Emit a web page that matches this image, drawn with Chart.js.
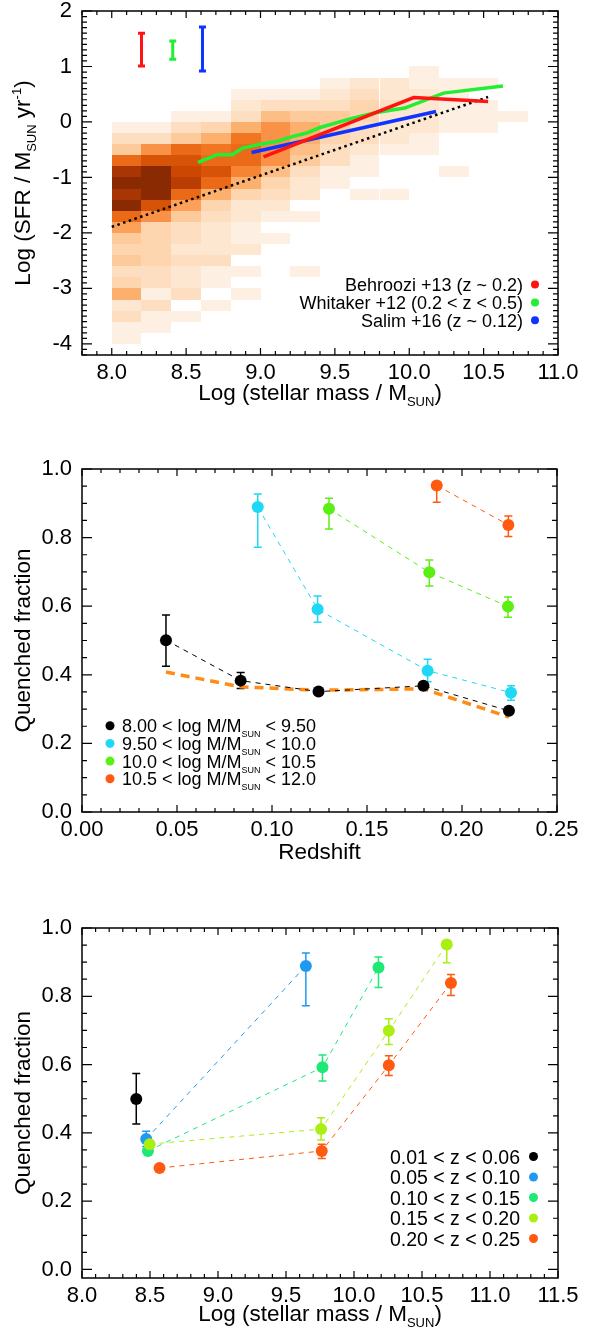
<!DOCTYPE html>
<html>
<head>
<meta charset="utf-8">
<script src="https://cdn.jsdelivr.net/npm/chart.js@4.4.1/dist/chart.umd.min.js"></script>
<style>
html, body { margin: 0; padding: 0; background: #fff; }
body { width: 590px; height: 1329px; position: relative; overflow: hidden; }
canvas { position: absolute; left: 0; }
</style>
</head>
<body>
<canvas id="sfrChart" width="590" height="410" style="top:0"></canvas>
<canvas id="zChart" width="590" height="410" style="top:455px"></canvas>
<canvas id="massChart" width="590" height="414" style="top:915px"></canvas>
<script>
// ---------- panel 1 : SFR vs stellar mass ----------
const binWidth = 0.2;
const massEdges = [8.0, 8.2, 8.4, 8.6, 8.8, 9.0, 9.2, 9.4, 9.6, 9.8, 10.0, 10.2, 10.4, 10.6];
const sfrEdges = [1.0, 0.8, 0.6, 0.4, 0.2, 0.0, -0.2, -0.4, -0.6, -0.8, -1.0, -1.2, -1.4,
                  -1.6, -1.8, -2.0, -2.2, -2.4, -2.6, -2.8, -3.0, -3.2, -3.4, -3.6, -3.8];
// relative density per cell (0 = empty), rows follow sfrEdges, columns follow massEdges
const density = [
  [0, 0, 0, 0, 0, 0, 0, 0, 0, 0, 1, 0, 0, 0],
  [0, 0, 0, 0, 0, 0, 0, 1, 1.5, 1.5, 1, 1, 1, 0],
  [0, 0, 0, 0, 1, 1, 1, 1.5, 2, 1.5, 1.5, 1, 0, 0],
  [0, 0, 0, 0, 1.5, 2, 2, 2, 2.5, 2, 1.5, 1, 1, 0],
  [0, 0, 1, 1, 2, 3.5, 3, 3, 2.5, 1.5, 1.5, 1, 1, 1],
  [1, 1, 2, 2.5, 4, 5, 4, 3, 2, 1.5, 1.5, 1, 1, 0],
  [2, 2, 3, 4, 6, 5, 4, 2.5, 2, 1.5, 1, 0, 0, 0],
  [3, 5, 6.5, 6, 6.5, 5, 3.5, 2, 1.5, 1, 1, 0, 0, 0],
  [6.5, 7.5, 7.5, 6.5, 6.5, 5, 3, 2, 1, 0, 0, 0, 0, 0],
  [9, 10, 8, 7.5, 5.5, 3.5, 2, 1, 1, 0, 0, 1, 0, 0],
  [10, 10, 8.5, 6.5, 4, 2.5, 1.5, 1, 0, 0, 0, 0, 0, 0],
  [9, 10, 6.5, 4, 2.5, 2, 1.5, 0, 1, 1, 0, 0, 0, 0],
  [10, 7.5, 4.5, 2.5, 1.5, 1.5, 0, 0, 0, 0, 0, 0, 0, 0],
  [6.5, 5, 3, 2, 1.5, 1, 1, 0, 0, 0, 0, 0, 0, 0],
  [4.5, 2.5, 2, 1.5, 1, 0, 0, 0, 0, 0, 0, 0, 0, 0],
  [3, 2.5, 2, 1.5, 1, 1, 0, 0, 0, 0, 0, 0, 0, 0],
  [2.5, 2.5, 1.5, 1.5, 1.5, 0, 0, 0, 0, 0, 0, 0, 0, 0],
  [3, 2.5, 2, 2, 0, 0, 0, 0, 0, 0, 0, 0, 0, 0],
  [2, 2, 1.5, 1, 1, 0, 1, 0, 0, 0, 0, 0, 0, 0],
  [2.5, 2, 1.5, 1, 0, 0, 0, 0, 0, 0, 0, 0, 0, 0],
  [4, 1, 2, 0, 1, 0, 0, 0, 0, 0, 0, 0, 0, 0],
  [1.5, 2, 0, 1, 0, 0, 0, 0, 0, 0, 0, 0, 0, 0],
  [2, 1, 1, 0, 0, 0, 0, 0, 0, 0, 0, 0, 0, 0],
  [1, 1, 0, 0, 0, 0, 0, 0, 0, 0, 0, 0, 0, 0],
  [1, 0, 0, 0, 0, 0, 0, 0, 0, 0, 0, 0, 0, 0]
];
const behrooziMass = [9.02, 10.03, 10.53];
const behrooziSfr = [-0.63, 0.44, 0.37];
const whitakerMass = [8.58, 8.71, 8.81, 8.88, 9.0, 9.11, 9.22, 9.31, 9.40, 9.62, 9.78, 9.97, 10.23, 10.63];
const whitakerSfr = [-0.73, -0.59, -0.59, -0.47, -0.40, -0.35, -0.26, -0.20, -0.10, 0.07, 0.17, 0.25, 0.52, 0.65];
const salimMass = [8.94, 10.18];
const salimSfr = [-0.55, 0.19];
const fitMass = [8.0, 10.53];
const fitSfr = [-1.89, 0.45];
const scatterMass = [8.2, 8.41, 8.61];
const scatterLo = [1.01, 1.13, 0.92];
const scatterHi = [1.60, 1.46, 1.71];
const relationLabels = ['Behroozi +13 (z ~ 0.2)', 'Whitaker +12 (0.2 < z < 0.5)', 'Salim +16 (z ~ 0.12)'];
const massTicks = [8.0, 8.5, 9.0, 9.5, 10.0, 10.5, 11.0];
const sfrTicks = [-4, -3, -2, -1, 0, 1, 2];

// ---------- panel 2 : quenched fraction vs redshift ----------
const massBinLabels = [['8.00 < log M/M', 'SUN', ' < 9.50'], ['9.50 < log M/M', 'SUN', ' < 10.0'],
                       ['10.0 < log M/M', 'SUN', ' < 10.5'], ['10.5 < log M/M', 'SUN', ' < 12.0']];
const zBin1 = [0.0442, 0.0835, 0.1245, 0.1797, 0.2247];
const qBin1 = [0.501, 0.383, 0.351, 0.368, 0.295];
const qBin1Lo = [0.425, 0.360, 0.344, 0.361, 0.288];
const qBin1Hi = [0.574, 0.407, 0.358, 0.375, 0.302];
const zBin2 = [0.0925, 0.1240, 0.1819, 0.2258];
const qBin2 = [0.889, 0.591, 0.412, 0.348];
const qBin2Lo = [0.772, 0.553, 0.380, 0.326];
const qBin2Hi = [0.927, 0.630, 0.445, 0.368];
const zBin3 = [0.1300, 0.1828, 0.2242];
const qBin3 = [0.884, 0.699, 0.599];
const qBin3Lo = [0.825, 0.659, 0.568];
const qBin3Hi = [0.915, 0.735, 0.627];
const zBin4 = [0.1867, 0.2244];
const qBin4 = [0.952, 0.837];
const qBin4Lo = [0.903, 0.803];
const qBin4Hi = [0.960, 0.863];
const zAll = [0.0442, 0.0835, 0.1245, 0.1797, 0.2247];
const qAll = [0.408, 0.365, 0.355, 0.359, 0.277];
const zTicks = [0.00, 0.05, 0.10, 0.15, 0.20, 0.25];
const fracTicks = [0.0, 0.2, 0.4, 0.6, 0.8, 1.0];

// ---------- panel 3 : quenched fraction vs stellar mass ----------
const zBinLabels = ['0.01 < z < 0.06', '0.05 < z < 0.10', '0.10 < z < 0.15', '0.15 < z < 0.20', '0.20 < z < 0.25'];
const mZ1 = [8.399];
const qZ1 = [0.499];
const qZ1Lo = [0.426];
const qZ1Hi = [0.574];
const mZ2 = [8.472, 9.646];
const qZ2 = [0.382, 0.889];
const qZ2Lo = [0.360, 0.772];
const qZ2Hi = [0.405, 0.927];
const mZ3 = [8.485, 9.768, 10.18];
const qZ3 = [0.347, 0.592, 0.884];
const qZ3Lo = [0.340, 0.552, 0.826];
const qZ3Hi = [0.355, 0.628, 0.915];
const mZ4 = [8.497, 9.758, 10.256, 10.682];
const qZ4 = [0.367, 0.411, 0.699, 0.952];
const qZ4Lo = [0.360, 0.379, 0.659, 0.898];
const qZ4Hi = [0.375, 0.444, 0.734, 0.960];
const mZ5 = [8.57, 9.763, 10.256, 10.713];
const qZ5 = [0.297, 0.347, 0.598, 0.839];
const qZ5Lo = [0.290, 0.325, 0.568, 0.802];
const qZ5Hi = [0.304, 0.367, 0.626, 0.864];
const mass2Ticks = [8.0, 8.5, 9.0, 9.5, 10.0, 10.5, 11.0, 11.5];

// ---------- helpers ----------
const FONT = "'Liberation Sans', Arial, Helvetica, sans-serif";
Chart.defaults.font.family = FONT;
Chart.defaults.font.size = 22;
Chart.defaults.color = '#000';
Chart.defaults.animation = false;

const zip = (xs, ys) => xs.map((v, i) => ({ x: v, y: ys[i] }));

const cmap = [[253, 240, 226], [253, 222, 192], [253, 203, 155], [252, 176, 110], [249, 145, 70],
              [241, 118, 34], [226, 94, 12], [203, 71, 3], [168, 53, 4], [138, 42, 3]];
function densityColor(v) {
  const t = Math.min(Math.max(v, 1), 10) - 1;
  const i = Math.min(Math.floor(t), 8), f = t - i;
  const a = cmap[i], b = cmap[i + 1];
  return 'rgb(' + a.map((c, k) => Math.round(c + (b[k] - c) * f)).join(',') + ')';
}

function drawRich(ctx, parts, x, y, align, size, sub) {
  const font = s => s + 'px ' + FONT;
  let w = 0;
  parts.forEach(([t, k]) => { ctx.font = font(k === 'n' ? size : sub); w += ctx.measureText(t).width; });
  let cx = align === 'center' ? x - w / 2 : align === 'right' ? x - w : x;
  const base = y + size * 0.36;
  ctx.textAlign = 'left';
  ctx.textBaseline = 'alphabetic';
  ctx.fillStyle = '#000';
  parts.forEach(([t, k]) => {
    ctx.font = font(k === 'n' ? size : sub);
    const dy = k === 'sub' ? size * 0.28 : k === 'sup' ? -size * 0.42 : 0;
    ctx.fillText(t, cx, base + dy);
    cx += ctx.measureText(t).width;
  });
}

function axis(min, max, ticks, fmt, isX, size) {
  return {
    type: 'linear', min: min, max: max,
    grid: { display: false, drawTicks: false }, border: { display: false },
    afterBuildTicks: s => { s.ticks = ticks.map(v => ({ value: v })); },
    ticks: { callback: v => fmt(v), padding: isX ? 5 : 10, autoSkip: false, maxRotation: 0 },
    afterFit: s => {
      if (isX) { s.height = size; s.paddingLeft = 0; s.paddingRight = 0; }
      else { s.width = size; s.paddingTop = 0; s.paddingBottom = 0; }
    }
  };
}

// IDL style frame with inward ticks on all four sides
const idlAxes = {
  id: 'idlAxes',
  afterDraw(chart, args, o) {
    const { ctx, chartArea: a, scales: { x, y } } = chart;
    const steps = (min, max, st) => { const out = []; for (let i = Math.ceil(min / st - 1e-6); i * st <= max + 1e-9; i++) out.push(i * st); return out; };
    const isMajor = (v, m) => Math.abs(v / m - Math.round(v / m)) < 1e-6;
    ctx.save();
    ctx.strokeStyle = '#000';
    ctx.lineWidth = 1.5;
    ctx.strokeRect(a.left, a.top, a.right - a.left, a.bottom - a.top);
    ctx.lineWidth = 1.2;
    ctx.beginPath();
    steps(x.min, x.max, o.xMinor).forEach(v => {
      const px = x.getPixelForValue(v), L = isMajor(v, o.xMajor) ? 7 : 4;
      ctx.moveTo(px, a.bottom); ctx.lineTo(px, a.bottom - L);
      ctx.moveTo(px, a.top); ctx.lineTo(px, a.top + L);
    });
    steps(y.min, y.max, o.yMinor).forEach(v => {
      const py = y.getPixelForValue(v), L = isMajor(v, o.yMajor) ? 10 : 5;
      ctx.moveTo(a.left, py); ctx.lineTo(a.left + L, py);
      ctx.moveTo(a.right, py); ctx.lineTo(a.right - L, py);
    });
    ctx.stroke();
    ctx.restore();
  }
};

const heatmap = {
  id: 'heatmap',
  beforeDatasetsDraw(chart) {
    const { ctx, scales: { x, y } } = chart;
    ctx.save();
    density.forEach((row, r) => row.forEach((v, c) => {
      if (!v) return;
      const x0 = Math.round(x.getPixelForValue(massEdges[c]));
      const x1 = Math.round(x.getPixelForValue(massEdges[c] + binWidth));
      const y0 = Math.round(y.getPixelForValue(sfrEdges[r]));
      const y1 = Math.round(y.getPixelForValue(sfrEdges[r] - binWidth));
      ctx.fillStyle = densityColor(v);
      ctx.fillRect(x0, y0, x1 - x0, y1 - y0);
    }));
    ctx.restore();
  }
};

const errorBars = {
  id: 'errorBars',
  beforeDatasetsDraw(chart) {
    const { ctx, scales: { x, y } } = chart;
    ctx.save();
    chart.data.datasets.forEach(ds => {
      if (!ds.errLo) return;
      ds.data.forEach((p, i) => {
        const px = x.getPixelForValue(p.x);
        const lo = y.getPixelForValue(ds.errLo[i]), hi = y.getPixelForValue(ds.errHi[i]);
        const cap = ds.errCap || 4;
        ctx.strokeStyle = Array.isArray(ds.errColor) ? ds.errColor[i] : ds.errColor;
        ctx.lineWidth = ds.errWidth || 1.5;
        ctx.beginPath();
        ctx.moveTo(px, lo); ctx.lineTo(px, hi);
        ctx.moveTo(px - cap, lo); ctx.lineTo(px + cap, lo);
        ctx.moveTo(px - cap, hi); ctx.lineTo(px + cap, hi);
        ctx.stroke();
      });
    });
    ctx.restore();
  }
};

const axisTitles = {
  id: 'axisTitles',
  afterDraw(chart, args, o) {
    const { ctx, chartArea: a } = chart;
    ctx.save();
    drawRich(ctx, o.x, (a.left + a.right) / 2, o.xPos, 'center', 22.5, 13);
    ctx.translate(o.yPos, (a.top + a.bottom) / 2);
    ctx.rotate(-Math.PI / 2);
    drawRich(ctx, o.y, 0, 0, 'center', 22.5, 13);
    ctx.restore();
  }
};

const dotLegend = {
  id: 'dotLegend',
  afterDraw(chart, args, o) {
    const ctx = chart.ctx;
    ctx.save();
    o.items.forEach((it, i) => {
      const yy = o.y0 + i * o.dy;
      ctx.fillStyle = it.color;
      ctx.beginPath();
      ctx.arc(o.dotX, yy, o.r, 0, Math.PI * 2);
      ctx.fill();
      drawRich(ctx, it.parts, o.textX, yy, o.align, o.size, o.sub);
    });
    ctx.restore();
  }
};

function seriesSet(xs, ys, lo, hi, color) {
  return {
    data: zip(xs, ys), showLine: true, borderColor: color, borderWidth: 1, borderDash: [5, 5],
    pointRadius: 6, pointBackgroundColor: color, pointBorderWidth: 0, pointBorderColor: color,
    errLo: lo, errHi: hi, errColor: color
  };
}

const commonPlugins = { legend: { display: false }, tooltip: { enabled: false } };

// ---------- chart 1 ----------
const relColors = ['#ff1414', '#22ee33', '#1034ff'];
new Chart(document.getElementById('sfrChart'), {
  type: 'scatter',
  data: {
    datasets: [
      { data: zip(behrooziMass, behrooziSfr), showLine: true, borderColor: relColors[0], borderWidth: 3.5, pointRadius: 0 },
      { data: zip(salimMass, salimSfr), showLine: true, borderColor: relColors[2], borderWidth: 3.5, pointRadius: 0 },
      { data: zip(whitakerMass, whitakerSfr), showLine: true, borderColor: relColors[1], borderWidth: 3.5, pointRadius: 0 },
      { data: zip(fitMass, fitSfr), showLine: true, borderColor: '#000', borderWidth: 2.5, borderDash: [2.5, 3.5], pointRadius: 0 },
      { data: zip(scatterMass, scatterMass.map((m, i) => (scatterLo[i] + scatterHi[i]) / 2)), pointRadius: 0,
        errLo: scatterLo, errHi: scatterHi, errColor: relColors, errWidth: 3, errCap: 3.5 }
    ]
  },
  options: {
    responsive: false,
    layout: { padding: { top: 11, right: 32, left: 0, bottom: 0 } },
    plugins: Object.assign({}, commonPlugins, {
      idlAxes: { xMinor: 0.1, xMajor: 0.5, yMinor: 0.1, yMajor: 1 },
      axisTitles: {
        x: [['Log (stellar mass / M', 'n'], ['SUN', 'sub'], [')', 'n']], xPos: 392,
        y: [['Log (SFR / M', 'n'], ['SUN', 'sub'], [' yr', 'n'], ['-1', 'sup'], [')', 'n']], yPos: 22
      },
      dotLegend: {
        items: relationLabels.map((t, i) => ({ parts: [[t, 'n']], color: relColors[i] })),
        textX: 523, dotX: 535, y0: 284.5, dy: 17.9, align: 'right', size: 18, sub: 11, r: 4
      }
    }),
    scales: {
      x: axis(7.8, 11.0, massTicks, v => v.toFixed(1), true, 55),
      y: axis(-4.2, 2.0, sfrTicks, v => String(v), false, 82)
    }
  },
  plugins: [heatmap, errorBars, idlAxes, axisTitles, dotLegend]
});

// ---------- chart 2 ----------
const massColors = ['#000000', '#1ed8f5', '#5cef14', '#ff5a0f'];
new Chart(document.getElementById('zChart'), {
  type: 'scatter',
  data: {
    datasets: [
      seriesSet(zBin1, qBin1, qBin1Lo, qBin1Hi, massColors[0]),
      seriesSet(zBin2, qBin2, qBin2Lo, qBin2Hi, massColors[1]),
      seriesSet(zBin3, qBin3, qBin3Lo, qBin3Hi, massColors[2]),
      seriesSet(zBin4, qBin4, qBin4Lo, qBin4Hi, massColors[3]),
      { data: zip(zAll, qAll), showLine: true, borderColor: '#ff8c14', borderWidth: 3.5, borderDash: [9, 6], pointRadius: 0 }
    ]
  },
  options: {
    responsive: false,
    layout: { padding: { top: 14, right: 33, left: 0, bottom: 0 } },
    plugins: Object.assign({}, commonPlugins, {
      idlAxes: { xMinor: 0.01, xMajor: 0.05, yMinor: 0.05, yMajor: 0.2 },
      axisTitles: { x: [['Redshift', 'n']], xPos: 396, y: [['Quenched fraction', 'n']], yPos: 22 },
      dotLegend: {
        items: massBinLabels.map((p, i) => ({ parts: [[p[0], 'n'], [p[1], 'sub'], [p[2], 'n']], color: massColors[i] })),
        textX: 122, dotX: 110, y0: 270.7, dy: 17.7, align: 'left', size: 18, sub: 9, r: 4.5
      }
    }),
    scales: {
      x: axis(0, 0.25, zTicks, v => v.toFixed(2), true, 53),
      y: axis(0, 1.0, fracTicks, v => v.toFixed(1), false, 82)
    }
  },
  plugins: [errorBars, idlAxes, axisTitles, dotLegend]
});

// ---------- chart 3 ----------
const zColors = ['#000000', '#1f9af0', '#1ee876', '#aaee14', '#ff5a0f'];
new Chart(document.getElementById('massChart'), {
  type: 'scatter',
  data: {
    datasets: [
      seriesSet(mZ1, qZ1, qZ1Lo, qZ1Hi, zColors[0]),
      seriesSet(mZ4, qZ4, qZ4Lo, qZ4Hi, zColors[3]),
      seriesSet(mZ3, qZ3, qZ3Lo, qZ3Hi, zColors[2]),
      seriesSet(mZ2, qZ2, qZ2Lo, qZ2Hi, zColors[1]),
      seriesSet(mZ5, qZ5, qZ5Lo, qZ5Hi, zColors[4])
    ]
  },
  options: {
    responsive: false,
    layout: { padding: { top: 13, right: 32, left: 0, bottom: 0 } },
    plugins: Object.assign({}, commonPlugins, {
      idlAxes: { xMinor: 0.1, xMajor: 0.5, yMinor: 0.05, yMajor: 0.2 },
      axisTitles: {
        x: [['Log (stellar mass / M', 'n'], ['SUN', 'sub'], [')', 'n']], xPos: 398,
        y: [['Quenched fraction', 'n']], yPos: 22
      },
      dotLegend: {
        items: zBinLabels.map((t, i) => ({ parts: [[t, 'n']], color: zColors[i] })),
        textX: 520, dotX: 533.5, y0: 241.5, dy: 20.5, align: 'right', size: 19.5, sub: 11, r: 4.5
      }
    }),
    scales: {
      x: axis(8.0, 11.5, mass2Ticks, v => v.toFixed(1), true, 51),
      y: axis(-0.025, 1.0, fracTicks, v => v.toFixed(1), false, 82)
    }
  },
  plugins: [errorBars, idlAxes, axisTitles, dotLegend]
});
</script>
</body>
</html>
